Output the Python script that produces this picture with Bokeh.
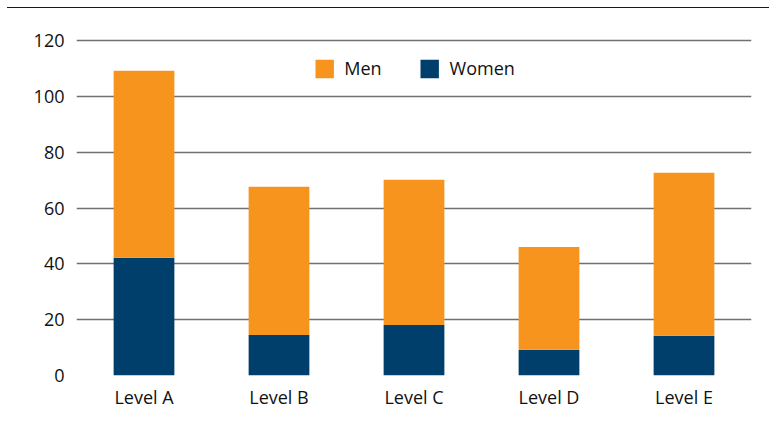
from bokeh.plotting import figure
from bokeh.models import ColumnDataSource, Range1d, FactorRange, Legend, LegendItem, FixedTicker
from bokeh.embed import file_html
from bokeh.resources import INLINE

levels = ["Level A", "Level B", "Level C", "Level D", "Level E"]
women = [42.2, 14.5, 18.1, 9.2, 14.3]
men = [67.1, 53.2, 52.1, 36.9, 58.4]
y_ticks = [0, 20, 40, 60, 80, 100, 120]

ORANGE = "#F6941E"
NAVY = "#003F6C"
FONT = "Open Sans"

source = ColumnDataSource(dict(levels=levels, women=women, men=men))

p = figure(
    x_range=FactorRange(*levels, range_padding=0),
    y_range=Range1d(0, 121.6),
    width=762, height=420,
    output_backend="svg", toolbar_location=None,
    min_border_left=69, min_border_right=18, min_border_top=28, min_border_bottom=53,
)
p.styles = {"border-top": "1.5px solid #1a1a1a", "margin-top": "7px", "margin-left": "7px"}
p.outline_line_color = None
p.background_fill_color = "white"
p.border_fill_color = "white"

renderers = p.vbar_stack(["women", "men"], x="levels", width=0.45, color=[NAVY, ORANGE],
                         line_color=None, source=source)

legend = Legend(items=[LegendItem(label="Men", renderers=[renderers[1]]),
                       LegendItem(label="Women", renderers=[renderers[0]])],
                location="top_center", orientation="horizontal")
legend.glyph_width = 23
legend.glyph_height = 23
legend.label_standoff = 9
legend.spacing = 36
legend.padding = 0
legend.margin = 20
legend.border_line_color = None
legend.background_fill_alpha = 0
legend.label_text_font = FONT
legend.label_text_font_size = "18px"
legend.label_text_color = "#111111"
p.add_layout(legend, "center")

p.xgrid.grid_line_color = None
p.ygrid.grid_line_color = "#707070"
p.ygrid.grid_line_width = 1.4
p.yaxis.ticker = FixedTicker(ticks=y_ticks)

for ax in (p.xaxis, p.yaxis):
    ax.axis_line_color = None
    ax.major_tick_line_color = None
    ax.minor_tick_line_color = None
    ax.major_tick_in = 0
    ax.major_tick_out = 0
    ax.major_label_text_font = FONT
    ax.major_label_text_font_size = "18px"
    ax.major_label_text_color = "#111111"
p.yaxis.major_label_standoff = 12
p.xaxis.major_label_standoff = 9

open("out.html", "w").write(file_html(p, INLINE))
